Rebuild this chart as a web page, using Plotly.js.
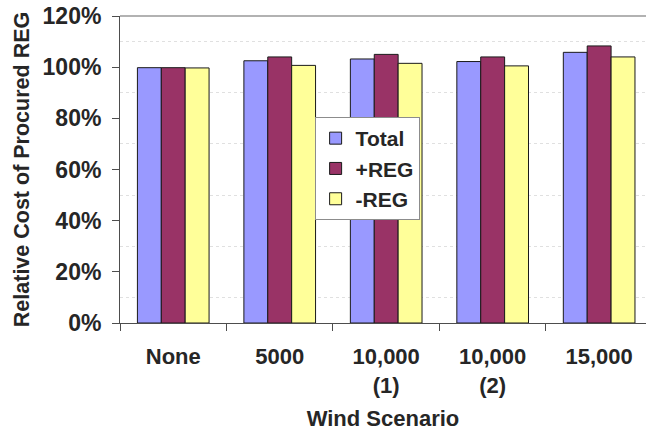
<!DOCTYPE html>
<html>
<head>
<meta charset="utf-8">
<script src="https://cdn.plot.ly/plotly-3.0.1.min.js"></script>
<style>html,body{margin:0;padding:0;background:#fff;}#chart{width:646px;height:431px;}</style>
</head>
<body>
<div id="chart"></div>
<script>
const categories = ["None", "5000", "10,000<br>(1)", "10,000<br>(2)", "15,000"];
const totalValues = [0.998, 1.025, 1.032, 1.022, 1.058];
const plusRegValues = [0.998, 1.040, 1.050, 1.040, 1.083];
const minusRegValues = [0.997, 1.007, 1.015, 1.005, 1.040];
const seriesNames = ["Total", "+REG", "-REG"];
const seriesColors = ["#9999ff", "#993366", "#ffff99"];
const seriesValues = [totalValues, plusRegValues, minusRegValues];

const FONT = "Liberation Sans, Arial, sans-serif";
const TXT = "#262626";

const traces = seriesValues.map((vals, i) => ({
  type: "bar",
  name: seriesNames[i],
  legendgroup: "g" + i,
  x: categories,
  y: vals,
  marker: { color: seriesColors[i], line: { color: "#1a1a1a", width: 1 } },
  hoverinfo: "skip"
}));

const layout = {
  width: 646,
  height: 431,
  margin: { l: 120, r: 0, t: 16, b: 108 },
  paper_bgcolor: "#ffffff",
  plot_bgcolor: "#ffffff",
  barmode: "group",
  bargap: 0.327,
  bargroupgap: 0,
  font: { family: FONT, color: TXT },
  showlegend: true,
  legend: {
    x: 0.37, y: 0.671, xanchor: "left", yanchor: "top",
    bgcolor: "#ffffff", bordercolor: "#8c8c8c", borderwidth: 1,
    font: { family: FONT, size: 21, color: TXT, weight: "bold" },
    tracegroupgap: 5,
    traceorder: "normal"
  },
  xaxis: {
    type: "category",
    range: [-0.5, 4.44],
    showline: true, linecolor: "#4d4d4d", linewidth: 1,
    ticks: "outside", ticklen: 7, tickcolor: "#4d4d4d",
    tickson: "boundaries",
    showgrid: false,
    tickfont: { family: FONT, size: 22, color: TXT, weight: "bold" },
    ticklabelstandoff: 14,
    title: { text: "Wind Scenario", font: { family: FONT, size: 22, color: TXT, weight: "bold" }, standoff: 23 },
    fixedrange: true
  },
  yaxis: {
    range: [0, 1.2],
    dtick: 0.2,
    tickformat: ".0%",
    showline: true, linecolor: "#4d4d4d", linewidth: 1,
    ticks: "outside", ticklen: 7, tickcolor: "#4d4d4d",
    showgrid: false,
    zeroline: false,
    minor: { dtick: 0.1, showgrid: true, gridcolor: "#e0e0e0", griddash: "dot", gridwidth: 1, ticks: "" },
    tickfont: { family: FONT, size: 23, color: TXT, weight: "bold" },
    ticklabelstandoff: 6,
    title: { text: "Relative Cost of Procured REG", font: { family: FONT, size: 21.5, color: TXT, weight: "bold" }, standoff: 7 },
    fixedrange: true
  },
  shapes: [
    { type: "line", xref: "paper", yref: "paper", x0: 0, x1: 1, y0: 1, y1: 1, line: { color: "#999999", width: 1.5 } }
  ]
};

Plotly.newPlot("chart", traces, layout, { displayModeBar: false, staticPlot: true });
</script>
</body>
</html>
